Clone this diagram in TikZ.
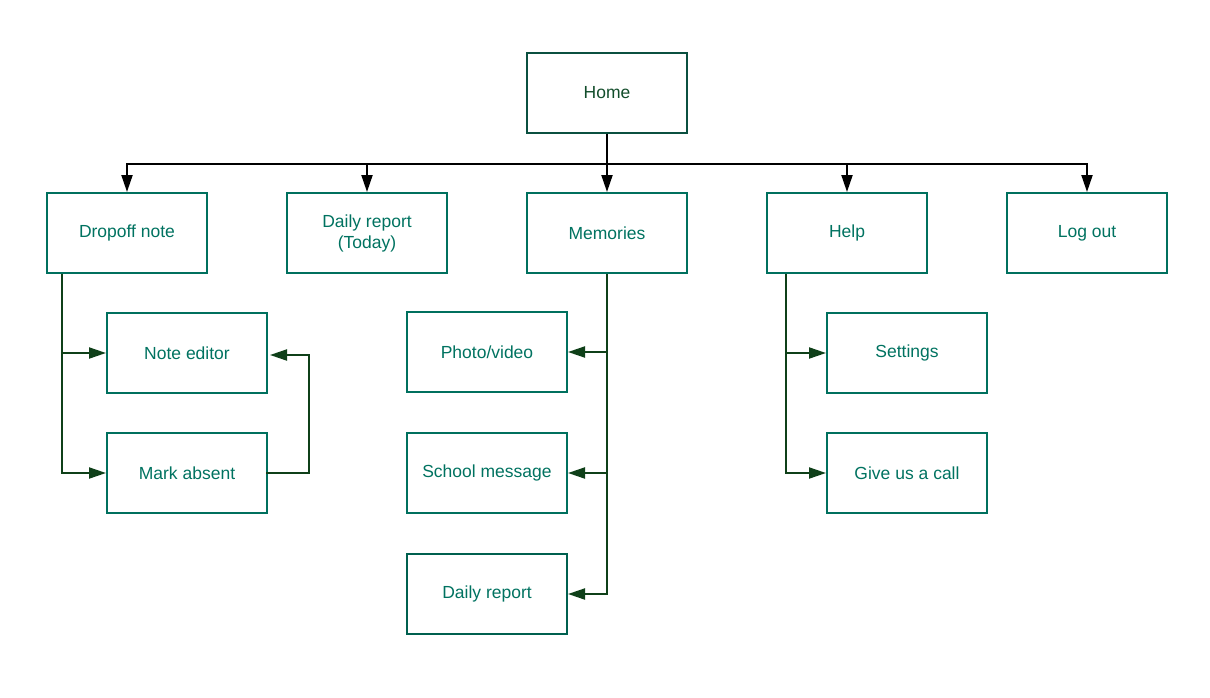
\documentclass[tikz,border=0pt]{standalone}
\usepackage{fontspec}
\setmainfont{Liberation Sans}
\usetikzlibrary{arrows.meta}
\definecolor{boxc}{HTML}{00705E}
\definecolor{homec}{HTML}{0B5040}
\definecolor{darkboxc}{HTML}{00604F}
\definecolor{txtc}{HTML}{007260}
\definecolor{hometxt}{HTML}{124D2B}
\definecolor{arrc}{HTML}{0F4019}
\tikzset{
  pg/.style={rectangle, draw=boxc, line width=2pt, minimum width=160pt, minimum height=80pt,
    inner sep=0pt, align=center, text=txtc, font=\fontsize{17.5}{21}\selectfont},
  mainarrow/.style={draw=black, line width=2pt, -{Triangle[length=17pt,width=11pt]}},
  subarrow/.style={draw=arrc, line width=2pt, -{Triangle[length=17pt,width=11pt]}},
  loopline/.style={draw=arrc, line width=2pt},
}
\begin{document}
\begin{tikzpicture}[x=1pt,y=-1pt]
\useasboundingbox (0,0) rectangle (1210,698);
\node[pg, draw=homec, text=hometxt] (home) at (607,93) {Home};
\node[pg] (drop) at (127,233) {Dropoff note};
\node[pg] (daily) at (367,233) {Daily report\\(Today)};
\node[pg] (mem) at (607,233) {Memories};
\node[pg] (help) at (847,233) {Help};
\node[pg] (logout) at (1087,233) {Log out};
\node[pg] (noteed) at (187,353) {Note editor};
\node[pg] (markab) at (187,473) {Mark absent};
\node[pg] (photo) at (487,352) {Photo/video};
\node[pg] (school) at (487,473) {School message};
\node[pg, draw=darkboxc] (dreport) at (487,594) {Daily report};
\node[pg] (settings) at (907,353) {Settings};
\node[pg] (call) at (907,473) {Give us a call};

\foreach \t in {drop,daily,mem,help,logout}
  \draw[mainarrow] (home.south) -- ++(0,30) -| (\t.north);

\draw[subarrow] ([xshift=16pt]drop.south west) |- (noteed.west);
\draw[subarrow] ([xshift=16pt]drop.south west) |- (markab.west);
\draw[subarrow] ([xshift=-2pt]markab.east) -- ++(43,0) |- ([xshift=2pt,yshift=-2pt]noteed.east);

\draw[subarrow] (mem.south) |- (photo.east);
\draw[subarrow] (mem.south) |- (school.east);
\draw[subarrow] (mem.south) |- (dreport.east);

\draw[subarrow] ([xshift=20pt]help.south west) |- (settings.west);
\draw[subarrow] ([xshift=20pt]help.south west) |- (call.west);
\end{tikzpicture}
\end{document}
